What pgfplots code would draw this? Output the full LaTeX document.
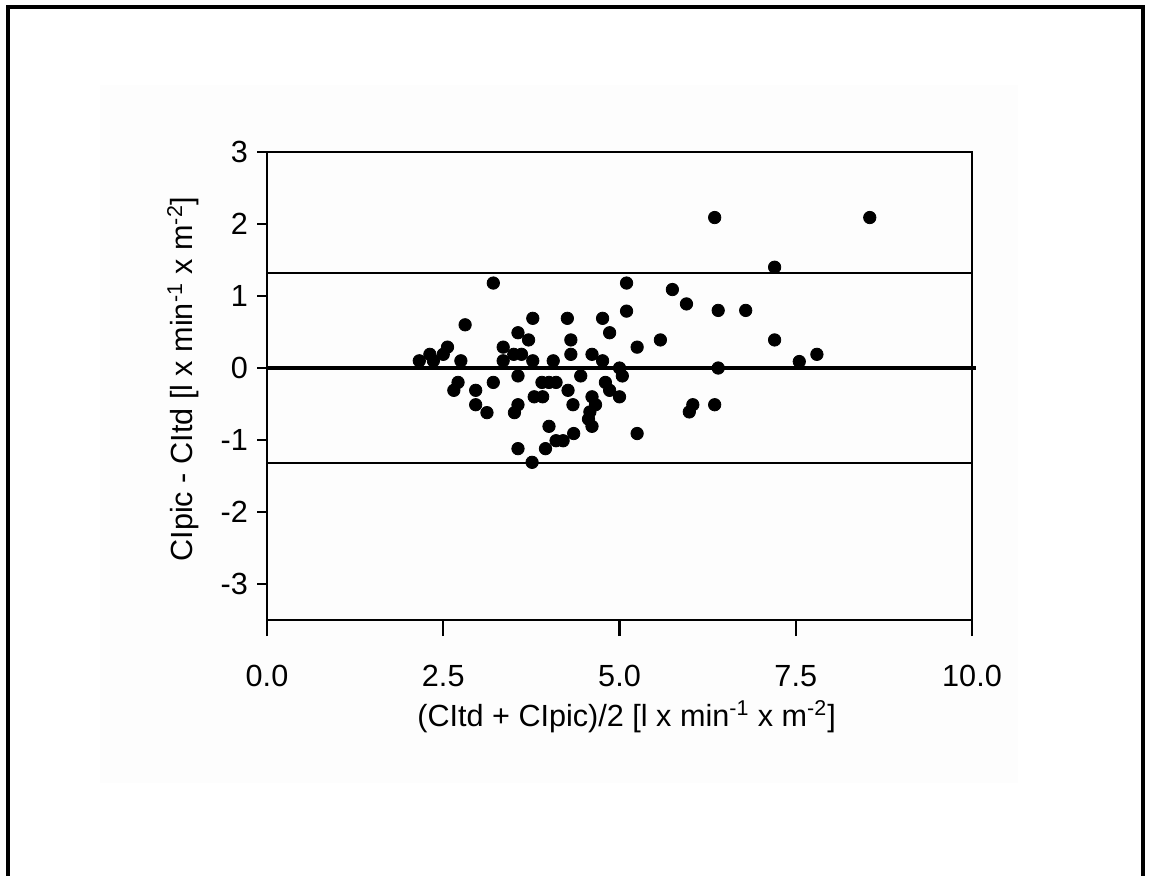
\documentclass[border=0pt]{standalone}
\usepackage{pgfplots}
\pgfplotsset{compat=1.18}
\usepackage{fontspec}
\setmainfont{Liberation Sans}

\pgfplotstableread{
x y
2.16 0.10
2.31 0.19
2.36 0.10
2.50 0.19
2.56 0.29
2.75 0.10
2.81 0.60
3.21 1.18
3.35 0.29
3.35 0.10
3.50 0.19
3.56 0.49
3.61 0.19
3.71 0.39
3.77 0.69
3.77 0.10
4.06 0.10
4.26 0.69
4.31 0.39
4.31 0.19
4.61 0.19
4.76 0.69
4.76 0.10
4.86 0.49
5.00 0.00
5.10 1.18
5.10 0.79
5.25 0.29
5.58 0.39
5.75 1.09
5.95 0.89
6.35 2.09
6.40 0.80
6.40 0.00
6.79 0.80
7.20 1.40
7.20 0.39
7.55 0.09
7.80 0.19
8.55 2.09
3.56 -0.11
4.45 -0.11
5.04 -0.11
2.71 -0.20
2.65 -0.31
2.96 -0.31
3.21 -0.20
3.90 -0.20
4.00 -0.20
4.10 -0.20
4.27 -0.31
4.80 -0.20
4.86 -0.31
5.00 -0.40
3.79 -0.40
3.91 -0.40
4.61 -0.40
4.66 -0.51
4.58 -0.61
4.56 -0.71
4.61 -0.81
2.96 -0.51
3.12 -0.62
3.56 -0.51
3.51 -0.62
4.34 -0.51
4.00 -0.81
4.35 -0.91
4.10 -1.01
4.20 -1.01
3.95 -1.12
3.56 -1.12
3.76 -1.31
5.25 -0.91
6.04 -0.51
5.99 -0.61
6.35 -0.51
}\points

\begin{document}
\begin{tikzpicture}[x=0.5pt,y=-0.5pt]
\useasboundingbox (0,0) rectangle (1150,876);
\fill[black!0.6] (100,85) rectangle (1018,783);
\draw[line width=2pt] (8,876) -- (8,7) -- (1143,7) -- (1143,876);
\begin{axis}[
  at={(133.5pt,-310pt)}, anchor=south west,
  scale only axis, width=352.5pt, height=234pt,
  font=\fontsize{15.3}{17}\selectfont,
  xmin=0, xmax=10, ymin=-3.5, ymax=3,
  xtick={0,2.5,5,7.5,10},
  ytick={-3,-2,-1,0,1,2,3},
  xticklabel style={yshift=-13pt,/pgf/number format/.cd,fixed,fixed zerofill,precision=1},
  /pgf/number format/assume math mode=true,
  tick align=outside, xtick pos=bottom, ytick pos=left,
  major tick length=6pt,
  xtick style={/pgfplots/major tick length=8pt},
  ytick style={/pgfplots/major tick length=5pt},
  axis line style={line width=1.1pt},
  every tick/.style={black,line width=1.1pt},
  xlabel={(CItd + CIpic)/2 [l x min\textsuperscript{-1} x m\textsuperscript{-2}]},
  ylabel={CIpic - CItd [l x min\textsuperscript{-1} x m\textsuperscript{-2}]},
  xlabel style={at={(axis description cs:0.51,-0.207)},anchor=center},
  ylabel style={at={(axis description cs:-0.119,0.515)},anchor=center},
  clip=false,
]
\addplot[black,line width=1pt] coordinates {(0,1.32) (10,1.32)};
\addplot[black,line width=1pt] coordinates {(0,-1.32) (10,-1.32)};
\addplot[black,line width=2.2pt] coordinates {(0,0) (10.05,0)};
\addplot[only marks,mark=*,mark size=3.1pt,black] table {\points};
\end{axis}
\end{tikzpicture}
\end{document}
